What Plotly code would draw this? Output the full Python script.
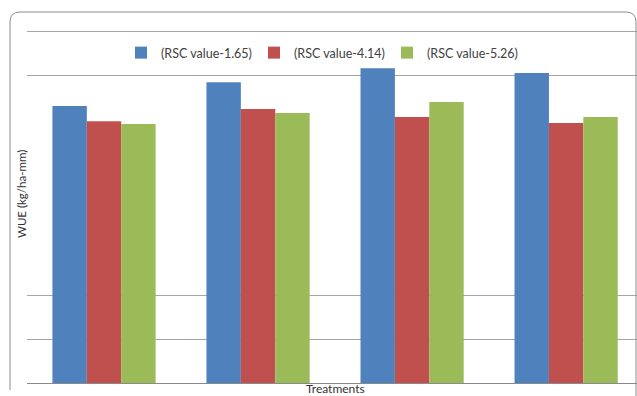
import plotly.graph_objects as go

# Water use efficiency per treatment for three irrigation-water RSC levels
treatments = ["T1", "T2", "T3", "T4"]
series_names = ["(RSC value-1.65)", "(RSC value-4.14)", "(RSC value-5.26)"]
wue_rsc_165 = [6.30, 6.84, 7.16, 7.05]
wue_rsc_414 = [5.95, 6.23, 6.05, 5.91]
wue_rsc_526 = [5.89, 6.14, 6.39, 6.05]
grid_values = [1, 2, 7, 8]

colors = ["#4F81BD", "#C0504D", "#9BBB59"]

W, H = 637, 396
ML, MR, MT, MB = 27, 0, 29, 13
PW, PH = W - ML - MR, H - MT - MB


def px(x):
    return (x - ML) / PW


def py(y):
    return (H - MB - y) / PH


fig = go.Figure()
for name, vals, col in zip(series_names, [wue_rsc_165, wue_rsc_414, wue_rsc_526], colors):
    fig.add_trace(go.Bar(x=treatments, y=vals, name=name, marker=dict(color=col, line=dict(width=0))))

font_family = "Lato, 'Open Sans', sans-serif"

# rounded chart-area frame
frame = (
    f"M {px(10)},{py(390)} L {px(10)},{py(22)} "
    f"Q {px(10)},{py(12)} {px(20)},{py(12)} "
    f"L {px(626)},{py(12)} Q {px(636)},{py(12)} {px(636)},{py(22)} "
    f"L {px(636)},{py(396)}"
)

fig.update_layout(
    width=W,
    height=H,
    margin=dict(l=ML, r=MR, t=MT, b=MB, pad=0),
    paper_bgcolor="white",
    plot_bgcolor="white",
    barmode="group",
    bargap=0.33,
    bargroupgap=0,
    font=dict(family=font_family, size=12, color="#404040"),
    showlegend=True,
    legend=dict(
        orientation="h",
        xanchor="left",
        yanchor="middle",
        x=px(121),
        y=py(53),
        entrywidth=88,
        entrywidthmode="pixels",
        bgcolor="rgba(0,0,0,0)",
        font=dict(family=font_family, size=12.5, color="#404040"),
    ),
    xaxis=dict(
        range=[-0.5, 3.46],
        showticklabels=False,
        ticks="",
        showgrid=False,
        showline=True,
        linecolor="#8a8a8a",
        linewidth=1,
        zeroline=False,
    ),
    yaxis=dict(
        range=[0, 8.05],
        tickvals=grid_values,
        showticklabels=False,
        ticks="",
        showgrid=True,
        gridcolor="#a6a6a6",
        gridwidth=1,
        zeroline=False,
        showline=False,
    ),
    shapes=[
        dict(type="path", xref="paper", yref="paper", path=frame,
             line=dict(color="#8c8c8c", width=1), layer="above"),
    ],
    annotations=[
        dict(text="WUE (kg/ha-mm)", xref="paper", yref="paper", x=px(21), y=py(194),
             xanchor="center", yanchor="middle", textangle=-90, showarrow=False,
             font=dict(family=font_family, size=11.5, color="#333333")),
        dict(text="Treatments", xref="paper", yref="paper", x=px(335), y=py(388.5),
             xanchor="center", yanchor="middle", showarrow=False,
             font=dict(family=font_family, size=12, color="#333333")),
    ],
)

fig.write_html("out.html")
